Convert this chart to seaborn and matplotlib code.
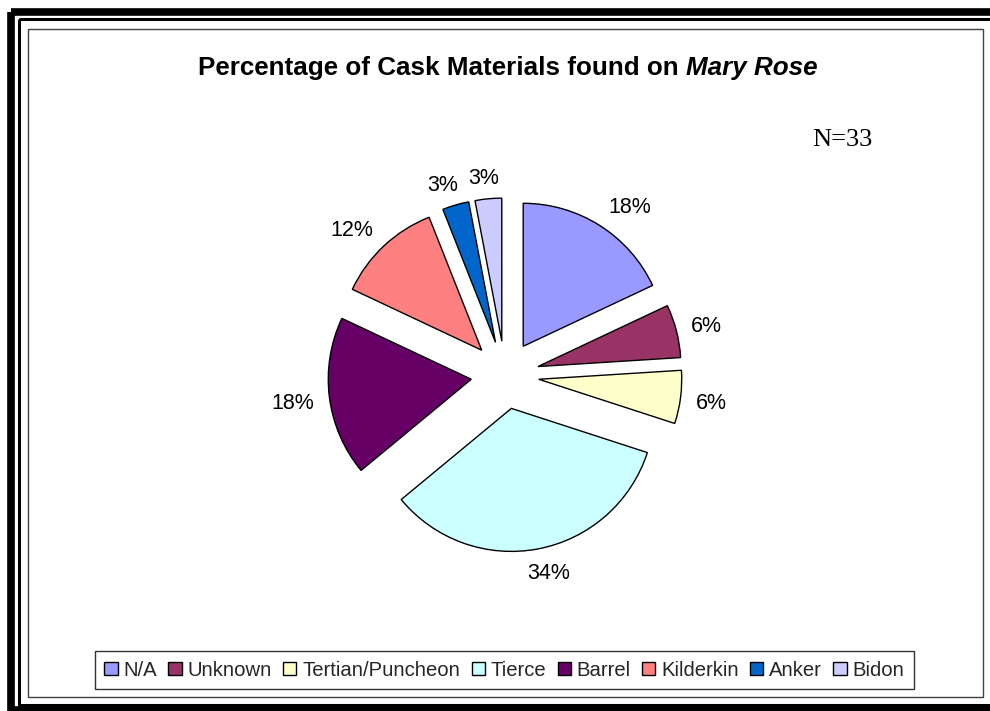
import matplotlib
matplotlib.use("Agg")
import numpy as np
import matplotlib.pyplot as plt
from matplotlib.patches import Rectangle, Patch
import seaborn as sns

# Cask types and their share of the assemblage (percent, N=33)
categories = ["N/A", "Unknown", "Tertian/Puncheon", "Tierce", "Barrel",
              "Kilderkin", "Anker", "Bidon"]
percentages = [18, 6, 6, 34, 18, 12, 3, 3]
sample_note = "N=33"
title_main = "Percentage of Cask Materials found on "
title_ship = "Mary Rose"

slice_colors = ["#9999FF", "#993366", "#FFFFCC", "#CCFFFF",
                "#660066", "#FF8080", "#0066CC", "#CCCCFF"]

sns.set_theme(style="white")
plt.rcParams["font.family"] = ["Liberation Sans", "DejaVu Sans"]

W, H = 990, 711
fig = plt.figure(figsize=(W / 100, H / 100), dpi=100)
fig.patch.set_facecolor("white")

# Background axes in pixel coordinates for frames and text
bg = fig.add_axes([0, 0, 1, 1])
bg.set_xlim(0, W)
bg.set_ylim(H, 0)
bg.axis("off")

# Outer thick frame and thin inner frame
bg.add_patch(Rectangle((11, 12), W + 20, 709.5 - 12, fill=False,
                       edgecolor="black", linewidth=5.5, zorder=1))
bg.add_patch(Rectangle((19, 18.5), W + 20, 705 - 18.5, fill=False,
                       edgecolor="black", linewidth=2.2, zorder=1))
# Chart area border
bg.add_patch(Rectangle((27.5, 28.5), 983 - 27.5, 697 - 28.5, fill=False,
                       edgecolor="#404040", linewidth=1.0, zorder=1))

# Title: bold, with the ship name in bold italic
t1 = bg.text(0, 75, title_main, fontsize=18.7, fontweight="bold",
             ha="left", va="baseline", color="black")
t2 = bg.text(0, 75, title_ship, fontsize=18.7, fontweight="bold",
             fontstyle="italic", ha="left", va="baseline", color="black")
renderer = fig.canvas.get_renderer()
w1 = t1.get_window_extent(renderer).width
w2 = t2.get_window_extent(renderer).width
x0 = 508 - (w1 + w2) / 2
t1.set_x(x0)
t2.set_x(x0 + w1)

bg.text(842, 146, sample_note, fontsize=19, family=["Liberation Serif"],
        ha="center", va="baseline", color="black")

# Pie axes: 1 data unit == 1 pixel, centred on the pie
cx, cy, R = 505, 375, 143
gap = 34
span = 600
ax = fig.add_axes([(cx - span / 2) / W, 1 - (cy + span / 2) / H,
                   span / W, span / H])
ax.set_xlim(-span / 2, span / 2)
ax.set_ylim(-span / 2, span / 2)
ax.axis("off")

palette = sns.color_palette(slice_colors)
explode = [gap] * len(percentages)
wedges, _, autotexts = ax.pie(
    percentages, colors=palette, explode=explode, radius=R,
    startangle=90, counterclock=False, autopct="%.0f%%",
    pctdistance=1.2, frame=False,
    wedgeprops=dict(edgecolor="black", linewidth=1.0),
    textprops=dict(fontsize=15.5, color="black"))
ax.set_xlim(-span / 2, span / 2)
ax.set_ylim(-span / 2, span / 2)

# Place each percentage label just outside its wedge, with the text box
# pushed away from the arc so it never overlaps the slice
label_reach = 158
for wedge, txt in zip(wedges, autotexts):
    theta = np.deg2rad((wedge.theta1 + wedge.theta2) / 2)
    dx, dy = np.cos(theta), np.sin(theta)
    vx, vy = wedge.center
    bb = txt.get_window_extent(renderer)
    hw, hh = bb.width / 2, 7.5
    sx = np.clip(2 * dx, -1, 1)
    sy = np.clip(2 * dy, -1, 1)
    txt.set_position((vx + label_reach * dx + hw * sx,
                      vy + label_reach * dy + hh * sy))
    txt.set_ha("center")
    txt.set_va("center_baseline")

# Legend along the bottom
handles = [Patch(facecolor=c, edgecolor="black", linewidth=1.0)
           for c in slice_colors]
leg = fig.legend(handles, categories, loc="center",
                 bbox_to_anchor=(504.5 / W, 1 - 670 / H), ncol=8,
                 fontsize=14.6, frameon=True, fancybox=False,
                 handlelength=0.65, handleheight=0.65, handletextpad=0.3,
                 columnspacing=0.55, borderpad=0.45, borderaxespad=0)
leg.get_frame().set_edgecolor("black")
leg.get_frame().set_linewidth(1.0)

fig.savefig("out.png", dpi=100, facecolor="white")
